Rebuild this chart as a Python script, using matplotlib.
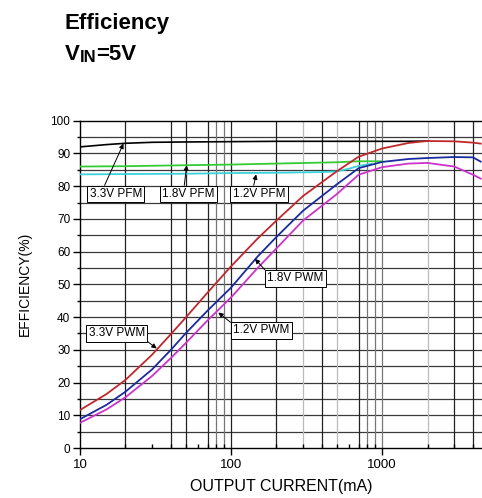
import matplotlib
matplotlib.use('Agg')
import matplotlib.pyplot as plt
from matplotlib.ticker import FixedLocator, FixedFormatter, NullFormatter

plt.rcParams['font.family'] = ['Liberation Sans', 'DejaVu Sans']

# values (mA, %)
pwm_current = [10, 15, 20, 30, 40, 50, 70, 100, 150, 200, 300, 500, 700, 1000, 1500, 2000, 3000, 4000, 4500]
pwm_33 = [11.6, 16.5, 20.8, 28.5, 34.8, 39.8, 47.5, 55.5, 64.0, 69.5, 77.0, 84.5, 89.0, 91.5, 93.2, 93.8, 93.7, 93.3, 93.0]
pwm_18 = [8.8, 13.2, 17.2, 24.0, 30.0, 35.0, 42.0, 49.0, 58.5, 64.5, 72.5, 80.5, 85.5, 87.4, 88.3, 88.6, 88.9, 88.8, 87.5]
pwm_12 = [7.7, 11.8, 15.5, 22.0, 27.5, 32.0, 39.0, 46.0, 55.0, 61.0, 69.5, 77.5, 83.5, 85.8, 86.9, 87.1, 86.0, 83.5, 82.3]

pfm33_current = [10, 15, 20, 30, 50, 100, 200, 500, 1000, 1500, 2000]
pfm_33 = [92.0, 92.7, 93.1, 93.4, 93.5, 93.6, 93.7, 93.7, 93.7, 93.7, 93.8]
pfm18_current = [10, 20, 50, 100, 200, 500, 700, 1000]
pfm_18 = [86.0, 86.1, 86.4, 86.6, 86.9, 87.3, 87.6, 87.6]
pfm12_current = [10, 20, 50, 100, 200, 400, 500, 600, 700, 850]
pfm_12 = [83.6, 83.7, 83.8, 84.0, 84.1, 84.3, 84.5, 85.3, 86.2, 86.8]

# callout boxes: text, box centre, arrow tip, where the arrow leaves the box
labels = ['3.3V PFM', '1.8V PFM', '1.2V PFM', '3.3V PWM', '1.8V PWM', '1.2V PWM']
label_xy = [(17.3, 77.6), (52, 77.6), (153, 77.6), (17.5, 35.0), (267, 51.8), (159, 35.9)]
arrow_xy = [(19.4, 93.0), (50.9, 86.4), (146.6, 83.6), (32.2, 30.4), (144, 57.8), (82.4, 41.4)]
arrow_rel = [(0.26, 1), (0.42, 1), (0.39, 1), (1, 0), (0, 1), (0, 1)]

hgrid = [5, 10, 15, 20, 25, 30, 35, 40, 45, 50, 55, 60, 65, 70, 75, 80, 85, 90, 95]
vgrid_dark = [20, 40, 50, 70, 100, 200, 400, 700, 3000, 4000]
vgrid_mid = [80, 90, 800, 900, 1000]
vgrid_light = [300, 500, 2000]

fig = plt.figure(figsize=(4.82, 4.98), dpi=100)
ax = fig.add_axes([80 / 482, 50 / 498, 402 / 482, 327.3 / 498])
ax.set_xscale('log')
ax.set_xlim(10, 4590)
ax.set_ylim(0, 100)

for y in hgrid:
    ax.axhline(y, color='#3a3a3a', lw=0.9, zorder=1)
for x in vgrid_dark:
    ax.axvline(x, color='#222222', lw=0.9, zorder=1)
for x in vgrid_mid:
    ax.axvline(x, color='#777777', lw=0.9, zorder=1)
for x in vgrid_light:
    ax.axvline(x, color='#bbbbbb', lw=0.9, zorder=1)

ax.plot(pfm33_current, pfm_33, color='black', lw=1.2, zorder=3)
ax.plot(pfm18_current, pfm_18, color='#33cc33', lw=1.3, zorder=3)
ax.plot(pfm12_current, pfm_12, color='#3cd2dc', lw=1.3, zorder=3)
ax.plot(pwm_current, pwm_33, color='#c0282d', lw=1.3, zorder=4)
ax.plot(pwm_current, pwm_18, color='#1a2aa0', lw=1.3, zorder=4)
ax.plot(pwm_current, pwm_12, color='#cc33cc', lw=1.3, zorder=4)

for txt, pos, tip, rel in zip(labels, label_xy, arrow_xy, arrow_rel):
    ax.annotate(txt, xy=tip, xytext=pos, ha='center', va='center', fontsize=8.5,
                bbox=dict(boxstyle='square,pad=0.2', fc='white', ec='black', lw=0.7),
                arrowprops=dict(arrowstyle='-|>', color='black', lw=0.7,
                                mutation_scale=7, relpos=rel, shrinkA=0, shrinkB=0),
                zorder=6)

ax.spines['right'].set_visible(False)
for s in ['left', 'bottom', 'top']:
    ax.spines[s].set_linewidth(1.0)
    ax.spines[s].set_color('black')

ax.xaxis.set_major_locator(FixedLocator([10, 100, 1000]))
ax.xaxis.set_major_formatter(FixedFormatter(['10', '100', '1000']))
ax.xaxis.set_minor_locator(FixedLocator([20, 30, 40, 50, 60, 70, 80, 90, 200, 300, 400, 500,
                                         600, 700, 800, 900, 2000, 3000, 4000]))
ax.xaxis.set_minor_formatter(NullFormatter())
ax.set_yticks([0, 10, 20, 30, 40, 50, 60, 70, 80, 90, 100])
ax.yaxis.set_minor_locator(FixedLocator([5, 15, 25, 35, 45, 55, 65, 75, 85, 95]))
ax.tick_params(axis='x', which='major', direction='out', length=5, width=1, labelsize=9.5, pad=3)
ax.tick_params(axis='x', which='minor', direction='in', length=3, width=1)
ax.tick_params(axis='y', which='major', direction='out', length=5, width=1, labelsize=8.5, pad=2)
ax.tick_params(axis='y', which='minor', direction='out', length=2.5, width=1)
ax.tick_params(top=False, right=False, which='both')

ax.set_xlabel('OUTPUT CURRENT(mA)', fontsize=11.5, labelpad=6)
ax.set_ylabel('EFFICIENCY(%)', fontsize=10, labelpad=13)

fig.text(65 / 482, 1 - 29 / 498, 'Efficiency', fontsize=16, fontweight='bold', va='baseline')
tv = fig.text(65 / 482, 1 - 60 / 498, 'V', fontsize=16, fontweight='bold', va='baseline')
tin = ax.annotate('IN', xy=(1, 0), xycoords=tv, fontsize=12, fontweight='bold', va='bottom',
                  annotation_clip=False)
ax.annotate('=5V', xy=(1, 0), xycoords=tin, fontsize=16, fontweight='bold', va='bottom',
            annotation_clip=False)

fig.savefig('out.png', dpi=100)
